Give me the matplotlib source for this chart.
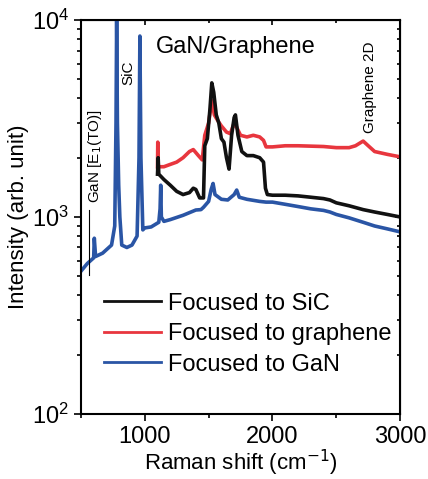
import matplotlib
matplotlib.use('Agg')
import matplotlib.pyplot as plt

plt.rcParams['font.family'] = ['Liberation Sans', 'DejaVu Sans']

# Focused to GaN (blue)
gan_x = [500, 550, 600, 605, 615, 670, 740, 765, 775, 780, 786, 796, 805, 820, 860, 900, 940,
         955, 962, 970, 985, 1000, 1050, 1110, 1120, 1125, 1130, 1150, 1200, 1300, 1400, 1440,
         1460, 1500, 1520, 1535, 1550, 1600, 1650, 1700, 1720, 1740, 1800, 1900, 1950, 2000,
         2100, 2200, 2300, 2400, 2450, 2500, 2600, 2710, 2800, 2900, 3000]
gan_y = [530, 580, 620, 780, 630, 655, 720, 900, 3000, 10000, 3000, 1450, 1000, 720, 700, 720, 800,
         2000, 8300, 2000, 860, 880, 890, 940, 1100, 1450, 1000, 950, 970, 1020, 1085, 1090,
         1120, 1200, 1380, 1480, 1300, 1230, 1220, 1300, 1370, 1260, 1230, 1200, 1190, 1190,
         1160, 1130, 1100, 1080, 1060, 1030, 990, 940, 900, 870, 840]

# Focused to SiC (black)
sic_x = [1100, 1105, 1110, 1150, 1200, 1250, 1300, 1350, 1380, 1400, 1430, 1460, 1470, 1490,
         1510, 1525, 1540, 1560, 1580, 1600, 1620, 1640, 1660, 1680, 1700, 1710, 1730, 1760,
         1800, 1850, 1900, 1930, 1945, 1960, 2000, 2100, 2200, 2300, 2400, 2450, 2500, 2600,
         2710, 2800, 2900, 3000]
sic_y = [1650, 2000, 1650, 1550, 1450, 1350, 1300, 1330, 1400, 1380, 1250, 1250, 2300, 2500,
         3500, 4800, 4300, 3300, 3000, 2500, 2400, 2000, 1750, 2600, 3200, 3300, 2600, 2150,
         2050, 2050, 2000, 1900, 1400, 1300, 1290, 1290, 1280, 1260, 1240, 1220, 1180, 1140,
         1090, 1060, 1030, 1000]

# Focused to graphene (red)
gr_x = [1100, 1102, 1106, 1150, 1200, 1250, 1300, 1350, 1380, 1420, 1450, 1470, 1500, 1525,
        1545, 1570, 1600, 1640, 1670, 1700, 1720, 1750, 1800, 1850, 1900, 1930, 1950, 2000,
        2100, 2200, 2300, 2400, 2500, 2600, 2650, 2710, 2750, 2800, 2900, 3000]
gr_y = [1800, 2400, 1800, 1800, 1850, 1900, 2000, 2150, 2200, 2050, 1950, 2600, 3000, 3900,
        3300, 3100, 2900, 2700, 2650, 3000, 2850, 2600, 2550, 2600, 2550, 2450, 2270, 2270,
        2300, 2300, 2290, 2280, 2250, 2250, 2300, 2430, 2300, 2150, 2080, 2020]

fig = plt.figure(figsize=(4.28, 4.79), dpi=100)
ax = fig.add_axes([0.189, 0.136, 0.746, 0.822])

ax.plot(gan_x, gan_y, color='#2a55a5', lw=2.6)
ax.plot(gr_x, gr_y, color='#e8363e', lw=2.6)
ax.plot(sic_x, sic_y, color='#111111', lw=2.6)

# legend handles, order as in the picture
ax.plot([], [], color='#111111', lw=2, label='Focused to SiC')
ax.plot([], [], color='#e8363e', lw=2, label='Focused to graphene')
ax.plot([], [], color='#2a55a5', lw=2, label='Focused to GaN')
h, l = ax.get_legend_handles_labels()
ax.legend(h, l, loc='upper left', bbox_to_anchor=(0.072, 0.308), frameon=False, fontsize=17,
          handlelength=2.4, handletextpad=0.3, labelspacing=0.36, borderpad=0, borderaxespad=0)

ax.set_yscale('log')
ax.set_xlim(500, 3000)
ax.set_ylim(100, 10000)
ax.set_xticks([1000, 2000, 3000])
ax.set_xticks([500, 1500, 2500], minor=True)
ax.tick_params(which='both', direction='out', labelsize=17, width=1.2)
ax.tick_params(which='major', length=5)
ax.tick_params(which='minor', length=3)
for s in ax.spines.values():
    s.set_linewidth(1.5)

top = ax.secondary_xaxis('top')
top.set_xticks([1000, 2000, 3000])
top.set_xticks([500, 1500, 2500], minor=True)
top.tick_params(which='both', direction='in', labeltop=False, width=1.2)
right = ax.secondary_yaxis('right')
right.tick_params(which='both', direction='in', labelright=False, width=1.2)

ax.set_xlabel('Raman shift (cm$^{-1}$)', fontsize=16, labelpad=0)
ax.set_ylabel('Intensity (arb. unit)', fontsize=16, labelpad=2)

ax.text(1715, 7300, 'GaN/Graphene', fontsize=17, ha='center', va='center')
ax.text(868, 5380, 'SiC', fontsize=11, rotation=90, ha='center', va='center')
ax.text(610, 2050, 'GaN [E$_1$(TO)]', fontsize=11, rotation=90, ha='center', va='center')
ax.text(2765, 4570, 'Graphene 2D', fontsize=11, rotation=90, ha='center', va='center')
ax.plot([563, 563], [508, 1085], color='black', lw=0.8)

fig.savefig('out.png', dpi=100)
